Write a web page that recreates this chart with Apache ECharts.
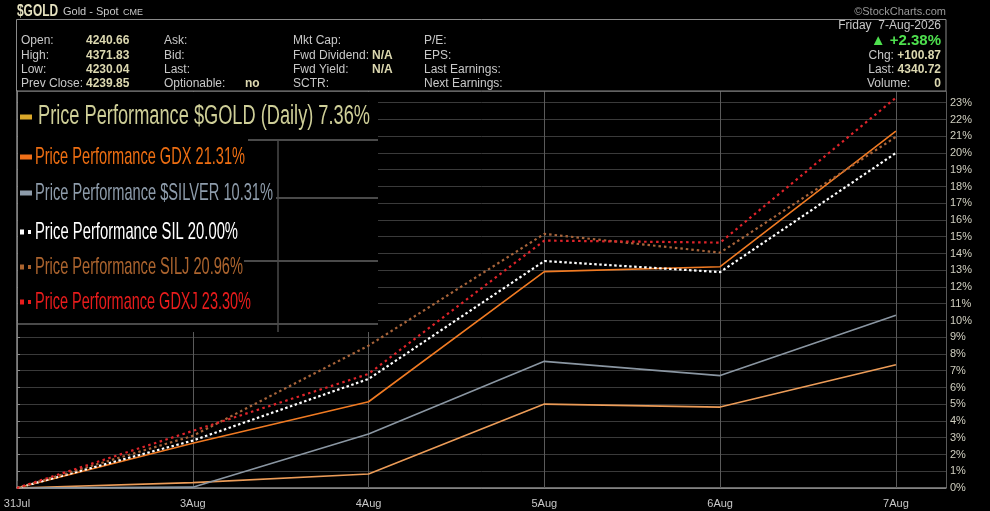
<!DOCTYPE html>
<html>
<head>
<meta charset="utf-8">
<script src="https://cdn.jsdelivr.net/npm/echarts@6/dist/echarts.min.js"></script>
<style>
html,body{margin:0;padding:0;background:#000;}
#chart{width:990px;height:511px;}
</style>
</head>
<body>
<div id="chart"></div>
<script>
// ---- data ----
var categories = ['31Jul', '3Aug', '4Aug', '5Aug', '6Aug', '7Aug'];
var goldPerf   = [0, 0.32, 0.84, 5.01, 4.83, 7.36];
var gdxPerf    = [0, 2.67, 5.15, 12.92, 13.21, 21.31];
var silverPerf = [0, 0.05, 3.23, 7.56, 6.71, 10.31];
var silPerf    = [0, 2.83, 6.51, 13.55, 12.89, 20.00];
var siljPerf   = [0, 3.11, 8.50, 15.17, 14.05, 20.96];
var gdxjPerf   = [0, 3.41, 6.81, 14.77, 14.65, 23.30];
var yTickMax = 23;

var legendLabels = [
  'Price Performance $GOLD (Daily) 7.36%',
  'Price Performance GDX 21.31%',
  'Price Performance $SILVER 10.31%',
  'Price Performance SIL 20.00%',
  'Price Performance SILJ 20.96%',
  'Price Performance GDXJ 23.30%'
];

var headerLabels1 = ['Open:', 'High:', 'Low:', 'Prev Close:'];
var headerValues1 = ['4240.66', '4371.83', '4230.04', '4239.85'];
var headerLabels2 = ['Ask:', 'Bid:', 'Last:', 'Optionable:'];
var headerLabels3 = ['Mkt Cap:', 'Fwd Dividend:', 'Fwd Yield:', 'SCTR:'];
var headerLabels4 = ['P/E:', 'EPS:', 'Last Earnings:', 'Next Earnings:'];

// ---- build ----
function pairs(arr) { return arr.map(function (v, i) { return [i, v]; }); }

var series = [
  { name: 'GOLD', data: goldPerf, color: '#ec9c58', type: 'solid', width: 1.6 },
  { name: 'GDX', data: gdxPerf, color: '#f07a22', type: 'solid', width: 1.6 },
  { name: 'SILVER', data: silverPerf, color: '#8a96a2', type: 'solid', width: 1.6 },
  { name: 'SIL', data: silPerf, color: '#ffffff', type: [2.5, 2.5], width: 2.2 },
  { name: 'SILJ', data: siljPerf, color: '#a8643a', type: [2.5, 3], width: 2.2 },
  { name: 'GDXJ', data: gdxjPerf, color: '#e0242a', type: [2.5, 3.5], width: 2.2 }
].map(function (s) {
  return {
    name: s.name, type: 'line', data: pairs(s.data), symbol: 'none',
    lineStyle: { color: s.color, width: s.width, type: s.type },
    animation: false, z: 3
  };
});

var graphics = [];
var lbl = '#c8c8c8', val = '#dcd8b0';
var baseFont = 'Liberation Sans, Arial, sans-serif';
var cv = document.createElement('canvas').getContext('2d');
function fitScale(text, cssFont, target) {
  cv.font = cssFont;
  var w = cv.measureText(text).width || 1;
  return target / w;
}
function txt(x, y, text, color, font, align, extra) {
  var o = { type: 'text', x: x, y: y, z: 20,
    style: { text: text, fill: color, font: font, textAlign: align || 'left', textVerticalAlign: 'middle' } };
  if (extra) for (var k in extra) o.style[k] = extra[k];
  return o;
}
// title
var titleEl = txt(17, 12, '$GOLD', '#e6e2c0', 'bold 16px ' + baseFont);
titleEl.scaleX = fitScale('$GOLD', 'bold 16px "Liberation Sans"', 41);
graphics.push(titleEl);
graphics.push(txt(63, 12, 'Gold - Spot', lbl, '11px ' + baseFont));
graphics.push(txt(123, 13, 'CME', lbl, '9px ' + baseFont));
graphics.push(txt(946, 12, '\u00a9StockCharts.com', '#9a9a9a', '11px ' + baseFont, 'right'));
// header box
graphics.push({ type: 'rect', z: 19, shape: { x: 16.5, y: 19.5, width: 929.5, height: 71.5 },
  style: { fill: 'none', stroke: '#8a8a8a', lineWidth: 1 } });
var rowsY = [41, 56, 70, 84];
var f12 = '12px ' + baseFont, fb12 = 'bold 12px ' + baseFont;
for (var i = 0; i < 4; i++) {
  graphics.push(txt(21, rowsY[i], headerLabels1[i], lbl, f12));
  graphics.push(txt(86, rowsY[i], headerValues1[i], val, fb12));
  graphics.push(txt(164, rowsY[i], headerLabels2[i], lbl, f12));
  graphics.push(txt(293, rowsY[i], headerLabels3[i], lbl, f12));
  graphics.push(txt(424, rowsY[i], headerLabels4[i], lbl, f12));
}
graphics.push(txt(245, 84, 'no', val, fb12));
graphics.push(txt(372, 56, 'N/A', val, fb12));
graphics.push(txt(372, 70, 'N/A', val, fb12));
// right side header
graphics.push(txt(941, 26, 'Friday  7-Aug-2026', lbl, '12px ' + baseFont, 'right'));
graphics.push(txt(941, 41, '\u25B2 +2.38%', '#4ee04e', 'bold 15px ' + baseFont, 'right'));
graphics.push(txt(941, 56, 'Chg: {b|+100.87}', lbl, f12, 'right', { rich: { b: { fontWeight: 'bold', fill: val, font: fb12 } } }));
graphics.push(txt(941, 70, 'Last: {b|4340.72}', lbl, f12, 'right', { rich: { b: { fontWeight: 'bold', fill: val, font: fb12 } } }));
graphics.push(txt(867, 84, 'Volume:', lbl, f12));
graphics.push(txt(941, 84, '0', val, fb12, 'right'));

// legend box
graphics.push({ type: 'rect', z: 15, shape: { x: 18, y: 92, width: 360, height: 240 }, style: { fill: '#000' } });
var lineCol = '#4a4a4a';
[[248, 140], [276, 198], [244, 261], [18, 324]].forEach(function (p) {
  graphics.push({ type: 'line', z: 16, shape: { x1: p[0], y1: p[1], x2: 378, y2: p[1] }, style: { stroke: lineCol, lineWidth: 2 } });
});
graphics.push({ type: 'line', z: 16, shape: { x1: 278, y1: 140, x2: 278, y2: 332 }, style: { stroke: lineCol, lineWidth: 1.5 } });

var legendY = [117, 157, 193, 232, 267, 302];
var legendX = [38, 35, 35, 35, 35, 35];
var legendW = [332, 210, 238, 203, 208, 216];
var legendFontSize = [27, 24, 24, 24, 24, 24];
var legendTextCol = ['#cfcf98', '#ee6e12', '#8e9cab', '#ffffff', '#ac642e', '#e81c1c'];
var legendMarkCol = ['#dba82a', '#f07018', '#8e9cab', '#ffffff', '#ac642e', '#e81c1c'];
for (var j = 0; j < 6; j++) {
  var font = legendFontSize[j] + 'px ' + baseFont;
  var sx = fitScale(legendLabels[j], legendFontSize[j] + 'px "Liberation Sans"', legendW[j]);
  graphics.push({ type: 'text', x: legendX[j], y: legendY[j], scaleX: sx, z: 17,
    style: { text: legendLabels[j], fill: legendTextCol[j], font: font, textAlign: 'left', textVerticalAlign: 'middle' } });
  if (j < 3) {
    graphics.push({ type: 'rect', z: 17, shape: { x: 20, y: legendY[j] - 2.5, width: 12, height: 5 }, style: { fill: legendMarkCol[j] } });
  } else {
    graphics.push({ type: 'rect', z: 17, shape: { x: 20, y: legendY[j] - 2.5, width: 4, height: 5 }, style: { fill: legendMarkCol[j] } });
    graphics.push({ type: 'rect', z: 17, shape: { x: 28, y: legendY[j] - 2, width: 3, height: 4 }, style: { fill: legendMarkCol[j] } });
  }
}

var hSplitColors = ['#6a6a6a'];
for (var k2 = 0; k2 < 30; k2++) hSplitColors.push('#3a3a3a');

var chart = echarts.init(document.getElementById('chart'), null, { renderer: 'canvas' });
chart.setOption({
  backgroundColor: '#000',
  animation: false,
  grid: { left: 17, right: 44, top: 91, bottom: 23 },
  xAxis: {
    type: 'value', min: 0, max: 5.285, interval: 1, offset: 7,
    axisLine: { show: true, lineStyle: { color: '#8a8a8a', width: 1.5 } },
    axisTick: { show: true, inside: true, length: 7, lineStyle: { color: '#5a5a5a' } },
    axisLabel: {
      color: '#c8c8c8', fontSize: 11, fontFamily: 'Liberation Sans, Arial, sans-serif', margin: 3,
      showMaxLabel: false,
      formatter: function (v) { return categories[Math.round(v)] !== undefined && Math.abs(v - Math.round(v)) < 1e-6 ? categories[Math.round(v)] : ''; }
    },
    splitLine: { show: true, lineStyle: { color: '#5a5a5a', width: 1 } }
  },
  yAxis: {
    type: 'value', position: 'right', min: 0, max: yTickMax + 0.7, interval: 1,
    axisLine: { show: true, lineStyle: { color: '#8a8a8a', width: 1.5 } },
    axisTick: { show: true, length: 3, lineStyle: { color: '#8a8a8a' } },
    axisLabel: {
      color: '#d0cfc0', fontSize: 11, fontFamily: 'Liberation Sans, Arial, sans-serif', margin: 4,
      showMaxLabel: false,
      formatter: function (v) { return Math.abs(v - Math.round(v)) < 1e-6 ? Math.round(v) + '%' : ''; }
    },
    splitLine: { show: true, lineStyle: { color: hSplitColors, width: 1 } }
  },
  series: series,
  graphic: graphics
});
</script>
</body>
</html>
